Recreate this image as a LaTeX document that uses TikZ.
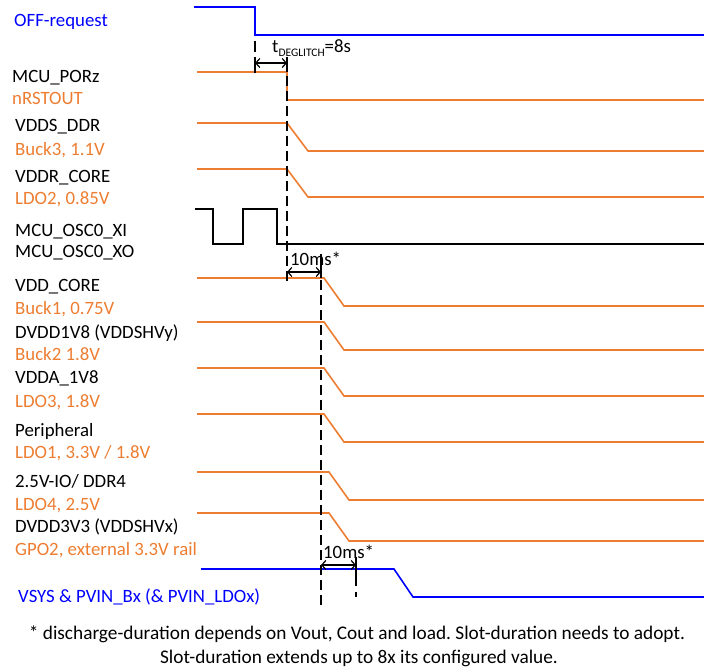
\documentclass[tikz,border=0pt]{standalone}
\usepackage{fontspec}
\setmainfont{Carlito}
\usetikzlibrary{arrows.meta}
\definecolor{sigorange}{RGB}{237,125,49}
\definecolor{sigblue}{RGB}{0,0,255}
\frenchspacing
\begin{document}
\begin{tikzpicture}[x=1pt,y=-1pt,
  lbl/.style={anchor=base west, inner sep=0pt, font=\fontsize{18.8}{21}\selectfont, text=black},
  olbl/.style={lbl, text=sigorange},
  blbl/.style={lbl, text=sigblue},
  osig/.style={draw=sigorange, line width=1.6pt},
  bsig/.style={draw=black, line width=1.4pt},
  vsig/.style={draw=sigblue, line width=1.6pt},
  guide/.style={draw=black, line width=1.2pt, dash pattern=on 10pt off 5pt},
  tick/.style={draw=black, line width=1.2pt},
  dimarr/.style={draw=black, line width=1.2pt, {Straight Barb[length=4pt,width=9pt]}-{Straight Barb[length=4pt,width=9pt]}},
  note/.style={anchor=base, inner sep=0pt, font=\fontsize{19.3}{22}\selectfont}
]
\useasboundingbox (0,0) rectangle (704,668);

% labels
\node[blbl] (offreq) at (14,27) {OFF-request};
\node[lbl]  (porz)   at (12,83) {MCU\_PORz};
\node[olbl] (nrst)   at (12,105) {nRSTOUT};
\node[lbl]  (vdds)   at (15,132) {VDDS\_DDR};
\node[olbl] (buck3)  at (15,156) {Buck3, 1.1V};
\node[lbl]  (vddr)   at (15,183) {VDDR\_CORE};
\node[olbl] (ldo2)   at (15,205) {LDO2, 0.85V};
\node[lbl]  (oscxi)  at (15,237) {MCU\_OSC0\_XI};
\node[lbl]  (oscxo)  at (15,258) {MCU\_OSC0\_XO};
\node[lbl]  (vddcore) at (15,292) {VDD\_CORE};
\node[olbl] (buck1)  at (15,315) {Buck1, 0.75V};
\node[lbl]  (dvdd18) at (15,338) {DVDD1V8 (VDDSHVy)};
\node[olbl] (buck2)  at (15,360) {Buck2 1.8V};
\node[lbl]  (vdda)   at (15,383) {VDDA\_1V8};
\node[olbl] (ldo3)   at (15,407) {LDO3, 1.8V};
\node[lbl]  (periph) at (15,436) {Peripheral};
\node[olbl] (ldo1)   at (15,458) {LDO1, 3.3V / 1.8V};
\node[lbl]  (io25)   at (15,487) {2.5V-IO/ DDR4};
\node[olbl] (ldo4)   at (15,510) {LDO4, 2.5V};
\node[lbl]  (dvdd33) at (15,532) {DVDD3V3 (VDDSHVx)};
\node[olbl] (gpo2)   at (15,555) {GPO2, external 3.3V rail};
\node[blbl] (vsys)   at (18,602) {VSYS \& PVIN\_Bx (\& PVIN\_LDOx)};

% signals
\draw[vsig] (194,7) -- (255,7) -- (255,35) -- (704,35);
\draw[osig] (197,72) -- (287,72) -- (287,100) -- (704,100);
\draw[osig] (197,123) -- (287,123) -- (308,151) -- (704,151);
\draw[osig] (197,169) -- (287,169) -- (308,197) -- (704,197);
\draw[bsig] (195,209) -- (213,209) -- (213,244) -- (243,244) -- (243,209) -- (277,209) -- (277,244) -- (704,244);
\draw[osig] (197,278) -- (324,278) -- (344,306) -- (704,306);
\draw[osig] (197,322) -- (324,322) -- (344,350) -- (704,350);
\draw[osig] (197,368) -- (324,368) -- (344,396) -- (704,396);
\draw[osig] (197,414) -- (324,414) -- (344,442) -- (704,442);
\draw[osig] (197,472) -- (329,472) -- (349,500) -- (704,500);
\draw[osig] (197,513) -- (329,513) -- (349,541) -- (704,541);
\draw[vsig] (201,569) -- (394,569) -- (413,597) -- (704,597);

% deglitch bracket
\draw[tick] (255,41) -- (255,52);
\draw[tick] (255,57) -- (255,73);
\draw[tick] (287,57) -- (287,72);
\draw[dimarr] (255,63) -- (287,63);
\node[anchor=base west, inner sep=0pt, font=\fontsize{18.8}{21}\selectfont] (tdeg) at (272,53)
  {t\raisebox{-3.5pt}{\fontsize{11.5}{12}\selectfont DEGLITCH}=8s};

% guides
\draw[guide] (287,76) -- (287,282);
\draw[tick] (321,254) -- (321,278);
\draw[dimarr] (287,272) -- (321,272);
\node[anchor=base west, inner sep=0pt, font=\fontsize{18.8}{21}\selectfont] (tms1) at (290,266) {10ms*};

\draw[guide] (321,280) -- (321,605);
\draw[tick] (356,557) -- (356,586);
\draw[tick] (356,592) -- (356,597);
\draw[dimarr] (321,565) -- (356,565);
\node[anchor=base west, inner sep=0pt, font=\fontsize{18.8}{21}\selectfont] (tms2) at (323,558) {10ms*};

% footnote
\node[note] (note1) at (357,639) {* discharge-duration depends on Vout, Cout and load. Slot-duration needs to adopt.};
\node[note] (note2) at (359,663) {Slot-duration extends up to 8x its configured value.};
\end{tikzpicture}
\end{document}
